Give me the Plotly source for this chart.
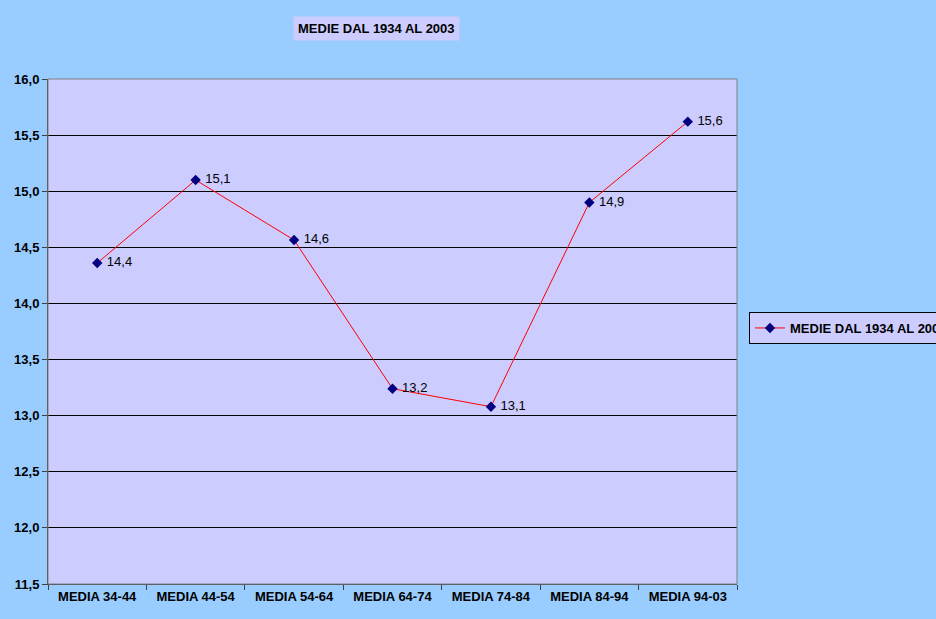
import plotly.graph_objects as go

categories = ["MEDIA 34-44", "MEDIA 44-54", "MEDIA 54-64", "MEDIA 64-74",
              "MEDIA 74-84", "MEDIA 84-94", "MEDIA 94-03"]
medie = [14.36, 15.10, 14.565, 13.24, 13.08, 14.90, 15.62]
series_name = "MEDIE DAL 1934 AL 2003"
y_ticks = [11.5, 12.0, 12.5, 13.0, 13.5, 14.0, 14.5, 15.0, 15.5, 16.0]

FONT = "Arial, Liberation Sans"

fig = go.Figure()
fig.add_trace(go.Scatter(
    x=categories,
    y=medie,
    name=series_name,
    mode="lines+markers+text",
    line=dict(color="#FF0000", width=1),
    marker=dict(symbol="diamond", size=8, color="#000080"),
    texttemplate=" %{y:.1f}",
    textposition="middle right",
    textfont=dict(family=FONT, size=13, color="#000000"),
    cliponaxis=False,
))

fig.update_layout(
    width=936,
    height=619,
    margin=dict(l=48, r=199, t=79, b=35, autoexpand=False),
    paper_bgcolor="#99CCFF",
    plot_bgcolor="#CCCCFF",
    separators=",.",
    font=dict(family=FONT, color="#000000"),
    showlegend=True,
    legend=dict(
        x=(749 - 48) / 689, y=(584 - 328) / 505, xanchor="left", yanchor="middle",
        bgcolor="#CCCCFF", bordercolor="#000000", borderwidth=1,
        font=dict(family=FONT, size=13, color="#000000", weight="bold"),
        itemwidth=30,
    ),
    annotations=[dict(
        text="<b>MEDIE DAL 1934 AL 2003</b>",
        xref="paper", yref="paper",
        x=(376 - 48) / 689, y=1 + (79 - 29) / 505,
        xanchor="center", yanchor="middle",
        showarrow=False,
        bgcolor="#CCCCFF",
        borderpad=4,
        font=dict(family=FONT, size=13, color="#000000"),
    )],
)

fig.update_xaxes(
    type="category",
    range=[-0.5, 6.5],
    showgrid=False,
    showline=True, linecolor="#404040", linewidth=1,
    mirror=False,
    ticks="outside", tickson="boundaries", ticklen=5, tickcolor="#404040",
    tickfont=dict(family=FONT, size=13, color="#000000", weight="bold"),
)

fig.update_yaxes(
    range=[11.5, 16.0],
    tickvals=y_ticks,
    tickformat=".1f",
    showgrid=True, gridcolor="#000000", gridwidth=1,
    showline=True, linecolor="#404040", linewidth=1,
    ticks="outside", ticklen=5, tickcolor="#404040",
    zeroline=False,
    tickfont=dict(family=FONT, size=13, color="#000000", weight="bold"),
)

# thin grey frame on the top and right sides of the plot area
fig.add_shape(type="rect", xref="paper", yref="paper", x0=0, y0=0, x1=1, y1=1,
              line=dict(color="#808080", width=1), layer="above")

fig.write_html("out.html")
